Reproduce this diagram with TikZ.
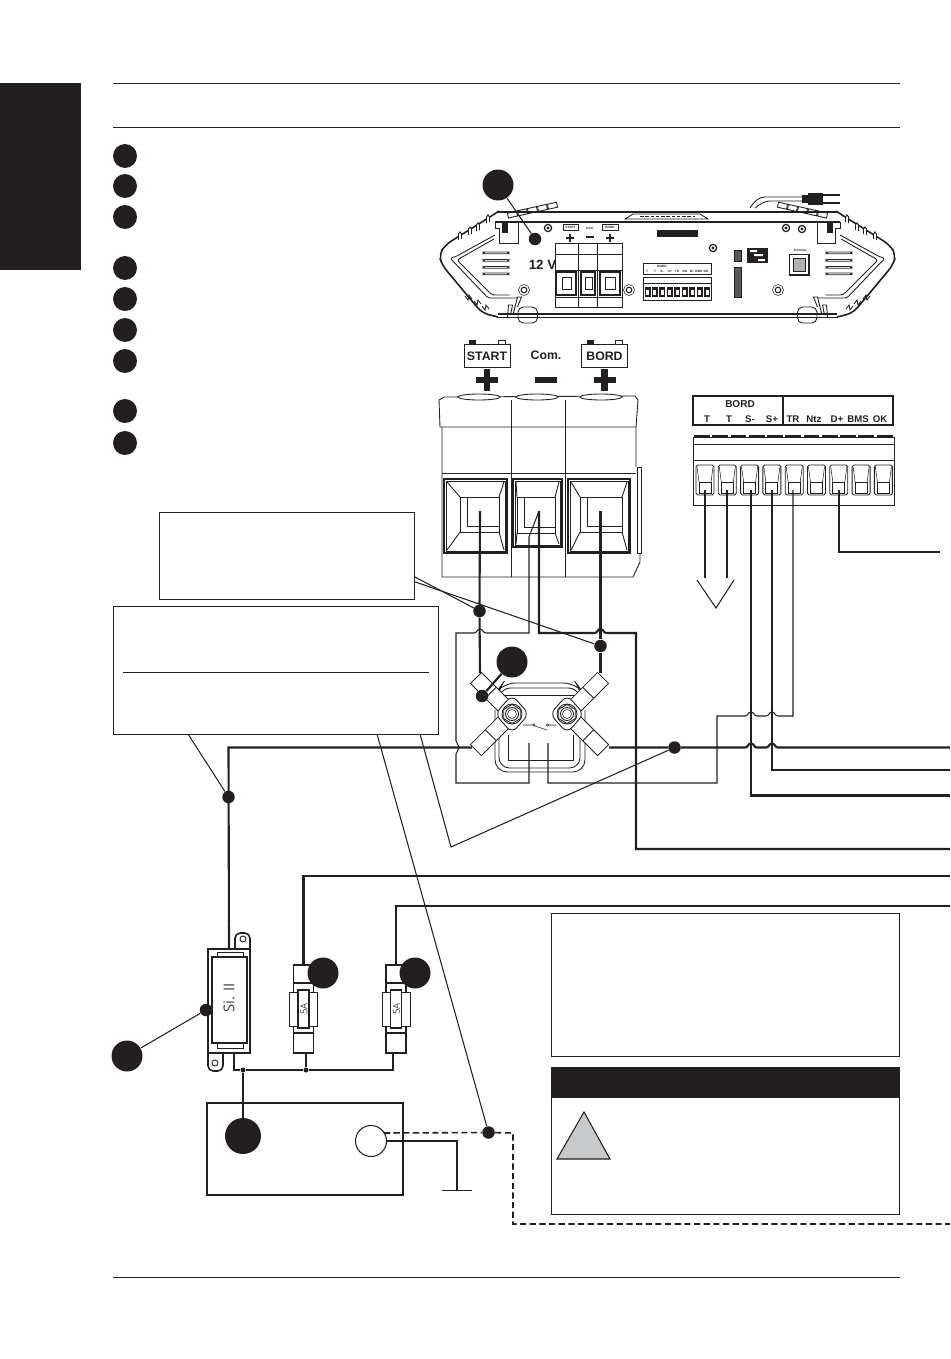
\documentclass[tikz,border=0pt]{standalone}
\usepackage{fontspec}
\setmainfont{Liberation Sans}
\newfontfamily\fuseface{Open Sans}
\usepackage{xcolor}
\usetikzlibrary{positioning, calc, shapes.geometric}
\definecolor{Ink}{HTML}{231F20}
\definecolor{WarnGrey}{HTML}{C8C9CA}

\tikzset{
    wire/.style={draw=Ink, line width=1.2pt, line join=miter},
    thinwire/.style={draw=Ink, line width=0.6pt},
    outline/.style={draw=Ink, line width=0.5pt},
    heavy/.style={draw=Ink, line width=0.9pt},
    fine/.style={draw=Ink, line width=0.3pt},
    bigball/.style={circle, fill=Ink, minimum size=0.62cm, inner sep=0pt},
    hugeball/.style={circle, fill=Ink, minimum size=0.72cm, inner sep=0pt},
    listball/.style={circle, fill=Ink, minimum size=0.48cm, inner sep=0pt},
    tapdot/.style={circle, fill=Ink, minimum size=0.25cm, inner sep=0pt},
    busdot/.style={circle, fill=Ink, minimum size=0.1cm, inner sep=0pt},
    labelbox/.style={font=\fontsize{7}{8}\selectfont\bfseries, text=Ink, inner sep=0pt},
    pinlabel/.style={font=\fontsize{5.5}{6}\selectfont\bfseries, text=Ink, inner sep=0pt},
    microlabel/.style={font=\fontsize{1.8}{2}\selectfont\bfseries, text=Ink, inner sep=0pt},
    fuselabel/.style={font=\fuseface\fontsize{5.5}{6}\selectfont, text=Ink!85, inner sep=0pt, rotate=90},
}

% wire jumping over a vertical wire
\newcommand{\hopx}[2]{-- ({#1-6},#2) .. controls ({#1-3},#2) and ({#1-3},{#2-4}) .. (#1,{#2-4})
    .. controls ({#1+3},{#2-4}) and ({#1+3},#2) .. ({#1+6},#2)}
% big terminal window: outer l t r b, inner l t r b
\newcommand{\termwindow}[8]{
    \draw[heavy, fill=white] (#1,#2) rectangle (#3,#4);
    \draw[fine] ({#1+2},{#2+2}) rectangle ({#3-2},{#4-2});
    \draw[outline] ({#1+3},{#2+3}) -- ({#5-7},#6) ({#3-3},{#2+3}) -- ({#7+4},#6)
        ({#1+3},{#4-3}) -- ({#5-7},{#8+6}) ({#3-3},{#4-3}) -- ({#7+4},{#8+6});
    \draw[outline] ({#5-7},#6) rectangle ({#7+4},{#8+6});
    \draw[outline] (#5,#6) -- (#5,#8) -- ({#7+4},#8);
}
% screws on the device plate
\newcommand{\platescrew}[2]{
    \draw[line width=0.7pt, Ink] (#1,#2) circle (3.6);
    \fill[Ink] (#1,#2) circle (1.6);
}
\newcommand{\platering}[2]{
    \draw[fine] (#1,#2) circle (5.5);
    \draw[line width=0.6pt, Ink] (#1,#2) circle (2.8);
}

\begin{document}
\begin{tikzpicture}[x=0.02cm, y=-0.02cm]
    \useasboundingbox (0,0) rectangle (950,1359);

    % Page furniture
    \fill[Ink] (0,83) rectangle (81,270);
    \draw[outline] (113,83) -- (900,83);
    \draw[outline] (113,127) -- (900,127);
    \draw[outline] (113,1277) -- (900,1277);

    % List markers
    \foreach \n/\y in {1/156,2/186,3/217,4/268,5/299,6/330,7/361,8/411,9/443}
        \node[listball] (item\n) at (125,\y) {};

    % Device, both halves
    \foreach \s in {1,-1} {
        \begin{scope}[shift={(667.5,0)}, xscale=\s]
            \draw[heavy, rounded corners=4pt] (-170,212) -- (-174.5,215) -- (-222.5,245) -- (-228.5,255)
                -- (-225.5,265) -- (-185.5,313) -- (-169.5,317);
            \draw[outline, rounded corners=1.5pt] (-172.5,235) -- (-212.5,257) -- (-217.5,258) -- (-179.5,298) -- (-150.5,298);
            \draw[outline, rounded corners=1.5pt] (-173.5,239) -- (-210.5,260) -- (-175.5,295) -- (-158,295);
            % rib notches
            \foreach \rx/\ry in {-207.5/237,-197.5/232,-189.5/228,-179.5/220} {
                \draw[outline, fill=white, rounded corners=1pt] (\rx-1.5,\ry+3) -- (\rx-1.5,\ry-5) -- (\rx+1.5,\ry-5) -- (\rx+1.5,\ry+2);
            }
            \foreach \rx/\ry in {-199.5/297,-190.5/302,-182.5/307} {
                \draw[outline] (\rx-3,\ry-1) -- (\rx,\ry+3) -- (\rx+1,\ry-2) -- (\rx+4,\ry+2);
            }
            \foreach \k in {0,...,4}
                \draw[outline, fill=white] ({-159+10*\k},{218-2.2*\k}) -- ({-150+10*\k},{216-2.2*\k})
                    -- ({-151+10*\k},{211-2.2*\k}) -- ({-160+10*\k},{213-2.2*\k}) -- cycle;
            \foreach \k in {252,259.5,266.5,273}
                \draw[outline, rounded corners=1pt] (-184.5,\k) rectangle (-158.5,{\k+1.8});
            \draw[outline] (-172.5,222) -- (-172.5,228) -- (-168,228) -- (-168,243) -- (-149.5,243) -- (-149.5,222);
            \fill[Ink] (-165.5,223) rectangle (-159.5,233);
            \draw[outline, fill=white, rounded corners=3pt] (-149.5,307) rectangle (-130,323);
            \draw[outline] (-160,317) -- (-159,305) -- (-155,305) -- (-157,315) (-154,313) -- (-150,297) -- (-146,297) -- (-150,307);
        \end{scope}
    }
    \draw[heavy] (497,212) -- (838,212);
    \draw[heavy] (495,222) -- (840,222);
    \draw[heavy] (498,314) -- (837,314);
    \draw[outline] (498,317) -- (837,317);
    \draw[outline, fill=white] (625,219) -- (633,214) -- (700,214) -- (708,219) -- cycle;
    \draw[line width=1.1pt, Ink, dash pattern=on 2pt off 1pt] (640,216.5) -- (695,216.5);
    \fill[Ink] (657,230) rectangle (698,237);

    % Device, plug lead
    \draw[outline] (750,208) .. controls (755,200) and (760,197) .. (765,197) -- (803,197);
    \draw[outline] (755,208) .. controls (760,204) and (765,201) .. (770,201) -- (803,201);
    \fill[Ink] (802,195) rectangle (808,203);
    \fill[Ink] (808,193) rectangle (823,205);
    \draw[line width=1.3pt, draw=Ink] (823,195) -- (840,195) (823,203) -- (840,203);

    % Device, screws
    \platescrew{548}{228}
    \platescrew{786}{228}
    \platescrew{802}{229}
    \platescrew{713}{248}
    \platering{524}{290}
    \platering{629}{290}
    \platering{778}{290}

    % Device, mini power terminal
    \draw[outline] (555,243) rectangle (622,307);
    \draw[outline] (578,243) -- (578,307) (597,243) -- (597,307);
    \draw[fine] (555,254) -- (622,254) (555,270) -- (622,270) (555,297) -- (622,297);
    \draw[line width=1.5pt, draw=Ink] (556,272) rectangle (576,295);
    \draw[line width=1.5pt, draw=Ink] (581,272) rectangle (595,295);
    \draw[line width=1.5pt, draw=Ink] (600,272) rectangle (620,295);
    \draw[fine] (562,277) rectangle (571,289) (585,277) rectangle (592,289) (605,277) rectangle (615,289);
    \draw[fine] (563,224) rectangle (578,230) (602,224) rectangle (618,230);
    \node[microlabel] (ministart) at (570.5,227) {START};
    \node[microlabel] (minicom) at (590,228) {Com.};
    \node[microlabel] (minibord) at (610,227) {BORD};
    \draw[line width=1pt, draw=Ink] (566,238) -- (574,238) (570,234) -- (570,242)
        (586,237) -- (594,237) (606,238) -- (614,238) (610,234) -- (610,242);
    \node[font=\fontsize{7.6}{9}\selectfont\bfseries, text=Ink, inner sep=0pt] (twelve) at (542.5,265) {12 V};

    % Device, mini signal terminal
    \draw[outline] (643,263) rectangle (711,274);
    \draw[outline] (643,277) rectangle (711,300);
    \draw[fine] (643,283) -- (711,283);
    \node[microlabel] (minibordb) at (662,266.5) {BORD};
    \foreach \x/\t in {647/T,655/T,662/S-,670/S+,677/TR,685/Ntz,692/D+,699/BMS,706/OK}
        \node[microlabel] at (\x,271) {\t};
    \foreach \k in {0,...,8} {
        \fill[Ink] ({644.5+7.45*\k},287) rectangle ({650.5+7.45*\k},297);
        \fill[white] ({646+7.45*\k},290) rectangle ({649+7.45*\k},295);
    }

    % Device, remaining sockets
    \draw[outline, fill=Ink!75] (734,250) rectangle (741,261);
    \fill[Ink] (747,248) rectangle (768,263);
    \fill[white] (750,250) rectangle (757,252) (754,254) rectangle (763,256) (758,259) rectangle (765,261);
    \draw[outline, fill=Ink!75] (734,267) rectangle (741,297);
    \draw[line width=1.1pt, Ink] (789.5,254.5) rectangle (809,275);
    \draw[fine, fill=Ink!35] (793,258) rectangle (805,271);
    \node[microlabel] (terminaltext) at (800,250) {Terminal};

    % Balloon on the device
    \node[bigball] (deviceball) at (498,185) {};
    \node[tapdot] (devicedot) at (535,239) {};
    \draw[thinwire] (deviceball) -- (devicedot);

    % Battery labels above the big terminal
    \foreach \n/\x/\t in {start/487/START,bord/604.5/BORD} {
        \draw[outline] (\x-23,344) rectangle (\x+23,367);
        \fill[Ink] (\x-18,340) rectangle (\x-11,344);
        \draw[outline] (\x+11,340) rectangle (\x+18,344);
        \node[labelbox] (\n label) at (\x,356) {\t};
        \draw[line width=3.6pt, draw=Ink] (\x-11,380) -- (\x+11,380) (\x,369) -- (\x,391);
    }
    \node[labelbox] (comlabel) at (546,355) {Com.};
    \draw[line width=3.4pt, draw=Ink] (535,380) -- (557,380);

    % Big terminal body
    \draw[outline] (439,400) -- (444,397) -- (635,396) -- (638,400) -- (636,427) -- (440,427) -- cycle;
    \draw[outline] (442,427) -- (442,577) -- (633,577) -- (640,562) -- (640,554)
        (636,427) -- (636,467);
    \draw[outline] (637,467) rectangle (641,553);
    \draw[outline] (511,400) -- (511,577) (565,400) -- (565,577);
    \draw[outline] (442,473) -- (636,473);
    \foreach \x in {479,537,601}
        \draw[outline, fill=white] (\x,397) ellipse (21 and 3);
    \termwindow{444}{479}{507}{553}{467}{497}{495}{526}
    \termwindow{513}{479}{562}{547}{524}{497}{551}{527}
    \termwindow{568}{479}{630}{553}{587}{497}{618}{526}

    % Signal terminal
    \draw[heavy] (693,396) rectangle (893,425);
    \draw[heavy] (783,396) -- (783,425);
    \node[pinlabel, font=\fontsize{5.7}{6}\selectfont\bfseries] (bordhead) at (740,404.5) {BORD};
    \foreach \n/\x/\t in {pa/707/T,pb/729/T,pc/750/S-,pd/772/S+,pe/793/TR,pf/814/Ntz,pg/837/D+,ph/858/BMS,pi/880/OK}
        \node[pinlabel] (\n) at (\x,419) {\t};
    \draw[outline] (693,437) rectangle (894,505);
    \draw[line width=1.3pt, Ink, dash pattern=on 9pt off 1.4pt] (694,436) -- (893,436);
    \draw[fine] (693,444) -- (894,444);
    \draw[outline] (693,460) -- (894,460);
    \foreach \k in {0,...,8} {
        \begin{scope}[shift={({696+22.3*\k},465)}]
            \draw[outline, rounded corners=1pt] (0,0) rectangle (18,30);
            \draw[outline] (3,17) rectangle (15,28);
            \draw[fine] (1,2) -- (3,17) (17,2) -- (15,17);
        \end{scope}
    }

    % Solenoid, housing
    \draw[outline, rounded corners=7pt] (495,710) -- (495,772) -- (585,772) -- (585,710);
    \draw[outline, rounded corners=6pt] (499,710) -- (499,768) -- (580,768) -- (580,710);
    \draw[outline] (508,735) -- (508,760) -- (573,760) -- (573,735);
    \draw[outline, rounded corners=7pt] (497,700) -- (497,691) -- (503,683) -- (576,683) -- (582,691) -- (582,700);
    \draw[outline, rounded corners=4pt] (500,695) -- (503,688) -- (576,688) -- (579,695);
    \draw[outline] (501,695) -- (579,695);

    % Solenoid, lugs and nuts
    \foreach \nx/\sx in {512/1,567/-1} {
        \begin{scope}[shift={(\nx,714)}, xscale=\sx]
            \foreach \ang in {225,135} {
                \begin{scope}[rotate=\ang]
                    \draw[outline, fill=white] (0,-7.7) rectangle (51,7.7);
                    \draw[outline] (30,-7.7) -- (30,7.7);
                \end{scope}
            }
            \draw[outline, fill=white, rounded corners=4pt] (-17,0) -- (0,-19) -- (17,0) -- (0,19) -- cycle;
            \draw[outline, fill=white] (0,0) circle (10);
            \draw[outline] (0,-9.5) -- (8.2,-4.7) -- (8.2,4.7) -- (0,9.5) -- (-8.2,4.7) -- (-8.2,-4.7) -- cycle;
            \draw[outline] (0,0) circle (6.5);
            \draw[fine] (0,0) circle (4.5);
        \end{scope}
    }
    % Solenoid, switch contact
    \draw[fine] (523,725) -- (533,725) (535,726) -- (547,730) (549,725) -- (556,725);
    \draw[fine] (534,725) circle (1.2) (547.5,725) circle (1.2);
    \coordinate (sol left) at (472,747.5);
    \coordinate (sol right) at (609,747.5);
    \coordinate (lug start) at (480,673);
    \coordinate (lug bord) at (600.5,673);
    \coordinate (coil left) at (529,743);
    \coordinate (coil right) at (548,743);

    % Text boxes
    \draw[outline] (159,512) rectangle (414,599);
    \draw[outline] (113,606) rectangle (438,734);
    \draw[outline] (123,672) -- (429,672);
    \draw[outline] (551,913) rectangle (899,1056);
    \draw[outline, fill=white] (551,1067) rectangle (899,1214);
    \fill[Ink] (551,1067) rectangle (899,1098);
    \coordinate (warnapex) at (584,1112);
    \draw[thinwire, fill=WarnGrey, line join=miter] (warnapex) -- (610,1159) -- (557,1159) -- cycle;

    % Junction dots
    \node[tapdot] (startdot) at (479.5,611) {};
    \node[tapdot] (borddot) at (600.5,646) {};
    \node[tapdot] (maindot) at (674.5,747.5) {};
    \node[tapdot] (fusedot) at (228.5,797) {};
    \node[tapdot] (sensedot) at (488.5,1132.5) {};
    \node[tapdot] (lugdot) at (482,696) {};
    \node[tapdot] (blockdot) at (206,1010) {};
    \node[busdot] (busa) at (243,1070) {};
    \node[busdot] (busb) at (306,1070) {};

    % Free wire ends
    \coordinate (pinS) at (480,511);
    \coordinate (pinC) at (539,511);
    \coordinate (pinB) at (600.5,511);
    \coordinate (boxa1) at (414,576.5);
    \coordinate (boxa2) at (414,581.5);
    \coordinate (boxb1) at (188,734);
    \coordinate (boxb2) at (377,734);
    \coordinate (boxb3) at (420,734);
    \coordinate (fuseA) at (229,949);
    \coordinate (fuseB) at (303.5,965);
    \coordinate (fuseC) at (396,965);
    \coordinate (endmain) at (950,747.5);
    \coordinate (endsplus) at (950,770);
    \coordinate (endsminus) at (950,795.5);
    \coordinate (endcom) at (950,849);
    \coordinate (endfa) at (950,876);
    \coordinate (endfb) at (950,906);
    \coordinate (enddash) at (950,1224);
    \coordinate (enddplus) at (940,552);

    % Power wires
    \draw[wire] (pinS) -- (startdot) -- (lug start);
    \draw[wire] (pinB) -- (borddot) -- (lug bord);
    \draw[wire] (pinC) -- (539,633) \hopx{600.5}{633} -- (636,633) -- (636,849) -- (endcom);
    \draw[wire] (fuseA) -- (228.5,747.5) -- (sol left);
    \draw[wire] (sol right) -- (maindot) \hopx{751}{747.5} \hopx{772}{747.5} -- (endmain);
    \draw[wire] (fuseB) -- (fuseB |- endfa) -- (endfa);
    \draw[wire] (fuseC) -- (396,906) -- (endfb);

    % Solenoid coil wires
    \draw[thinwire] (coil left) -- (529,783) -- (456,783) -- (456,754)
        .. controls (456,751) and (459,751) .. (459,747.5)
        .. controls (459,744) and (456,744) .. (456,741) -- (456,633)
        \hopx{480}{633} -- (529,633) -- (529,537) -- (pinC);
    \draw[thinwire] (coil right) -- (548,783) -- (717,783) -- (717,716)
        \hopx{751}{716} \hopx{772}{716} -- (793,716) -- (793,490);

    % Signal wires
    \draw[wire] (751,490) -- (751,795.5) -- (endsminus);
    \draw[wire] (772,490) -- (772,770) -- (endsplus);
    \draw[wire] (705,490) -- (705,578);
    \draw[wire] (727,490) -- (727,578);
    \draw[thinwire] (697,580) -- (716,608) -- (734,580);
    \draw[wire] (839,490) -- (839,552) -- (enddplus);

    % Callout leaders
    \draw[thinwire] (boxa1) -- (startdot);
    \draw[thinwire] (boxa2) -- (borddot);
    \draw[thinwire] (boxb1) -- (fusedot);
    \draw[thinwire] (boxb2) -- (sensedot);
    \draw[thinwire] (boxb3) -- (451,847) -- (maindot);

    % Main fuse
    \draw[heavy, fill=white, rounded corners=3pt] (235,949) -- (235,933) -- (250,933) -- (250,949);
    \draw[outline] (243,939) circle (3);
    \draw[heavy, rounded corners=3pt] (208,1053) -- (208,1071) -- (223,1071) -- (223,1053);
    \draw[outline] (215,1063) circle (3);
    \draw[heavy] (208,949) rectangle (250,1053);
    \draw[heavy] (212,957) rectangle (247,1043);
    \draw[outline] (217,952) rectangle (243,957);
    \draw[outline] (217,1043) rectangle (243,1048);
    \node[fuselabel, font=\fuseface\fontsize{8.5}{9}\selectfont] (mainfuse) at (229,998) {Si. II};

    % Small fuses
    \foreach \n/\x in {one/303.5,two/396} {
        \draw[heavy] (\x-10,965) rectangle (\x+10,1053);
        \draw[heavy] (\x-10,983) -- (\x+10,983);
        \draw[heavy] (\x-10,1033) -- (\x+10,1033);
        \draw[outline, fill=white] (\x-14,992) rectangle (\x+14,1026);
        \draw[heavy, fill=white] (\x-5.5,990) rectangle (\x+5.5,1028);
        \node[fuselabel] (fuse\n) at (\x+0.5,1009) {5A};
    }
    \node[bigball] (fuseball) at (323,973) {};
    \node[bigball] (fuseballb) at (415,973) {};
    \node[bigball] (blockball) at (127,1056) {};
    \draw[thinwire] (blockball) -- (blockdot);

    % Lug balloon
    \node[bigball] (lugball) at (512,662) {};
    \draw[wire] (lugball) -- (lugdot);

    % Fuse bus
    \draw[thinwire] (234,1053) -- (234,1070) -- (busa) -- (busb) -- (393,1070) -- (393,1053);
    \draw[thinwire] (busb) -- (306,1053);

    % Lower unit
    \draw[heavy] (207,1103) rectangle (403,1195);
    \node[circle, draw=Ink, line width=0.6pt, minimum size=0.62cm, inner sep=0pt] (senseport) at (371,1141) {};
    \node[hugeball] (unitball) at (243,1136) {};
    \draw[wire] (busa) -- (unitball);
    \coordinate (gndtop) at (457,1190);
    \draw[wire, line width=0.8pt] (senseport.east) -- (457,1141) -- (gndtop);
    \draw[outline] (442,1190) -- (472,1190);
    \draw[draw=Ink, line width=0.9pt, dash pattern=on 3.5pt off 2pt] (384,1133) -- (sensedot) -- (513,1133) -- (513,1224) -- (enddash);
\end{tikzpicture}
\end{document}
